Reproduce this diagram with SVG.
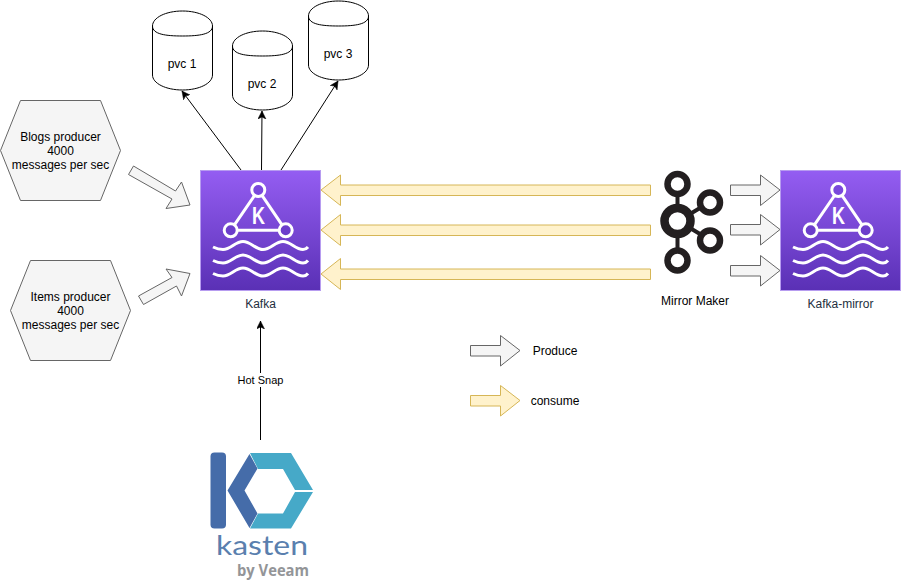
<svg xmlns="http://www.w3.org/2000/svg" width="901" height="584" viewBox="0 0 901 584">
<style>
text{font-family:"Liberation Sans",Arial,sans-serif;font-size:12px;fill:#000;text-anchor:middle}
.hex{fill:#f5f5f5;stroke:#666;stroke-width:1}
.gr{fill:#f5f5f5;stroke:#666;stroke-width:1}
.ye{fill:#fff2cc;stroke:#d6b656;stroke-width:1}
.cyl{fill:#fff;stroke:#000;stroke-width:1}
.conn{fill:none;stroke:#000;stroke-width:1;marker-end:url(#tip)}
.wh{fill:none;stroke:#fff;stroke-width:3}
.wave{fill:none;stroke:#fff;stroke-width:3}
.mm{fill:none;stroke:#231f20}
.aws{fill:#232f3e;font-size:12px}
</style>
<defs>
<linearGradient id="purple" x1="0" y1="0" x2="0" y2="1"><stop offset="0" stop-color="#945df2"/><stop offset="1" stop-color="#5a30b5"/></linearGradient>
<marker id="tip" markerUnits="userSpaceOnUse" markerWidth="10" markerHeight="10" refX="8" refY="4" orient="auto"><path d="M0 0L8 4L0 8L2 4Z" fill="#000" stroke="#000" stroke-width=".5"/></marker>
<g id="kafkaIcon">
<rect x=".5" y=".5" width="120" height="120" fill="url(#purple)" stroke="#b79cf0"/>
<path class="wh" d="M58.300 20L30.700 60.300H85.700Z"/>
<circle cx="58.300" cy="20" r="6.500" fill="#7a48dc" stroke="#fff" stroke-width="3"/>
<circle cx="30.700" cy="60.300" r="6.500" fill="#6c3ecb" stroke="#fff" stroke-width="3"/>
<circle cx="85.700" cy="60.300" r="6.500" fill="#6c3ecb" stroke="#fff" stroke-width="3"/>
<text x="58.500" y="54" style="font-size:23px;font-weight:bold;fill:#fff" textLength="13" lengthAdjust="spacingAndGlyphs">K</text>
<path class="wave" d="M13 77C18 79.500 20 79.500 23 79.500C31 79.500 35 71.500 43 71.500S55 79.500 63 79.500S75 71.500 83 71.500S95 79.500 103 79.500C105 79.500 106 79.500 108 77"/>
<path class="wave" d="M13 90.500C18 93 20 93 23 93C31 93 35 85 43 85S55 93 63 93S75 85 83 85S95 93 103 93C105 93 106 93 108 90.500"/>
<path class="wave" d="M13 103.500C18 106 20 106 23 106C31 106 35 98 43 98S55 106 63 106S75 98 83 98S95 106 103 106C105 106 106 106 108 103.500"/>
</g>
</defs>
<rect width="901" height="584" fill="#fff"/>
<g id="connectors">
<path class="conn" d="M241 170L182 91"/>
<path class="conn" d="M261.500 170L262 111"/>
<path class="conn" d="M281 170L338 81"/>
<path class="conn" d="M260.500 440V321"/>
<rect x="237" y="373" width="47" height="14" fill="#fff"/>
<text x="260.500" y="384" style="font-size:11px">Hot Snap</text>
<polygon class="gr" points="128.500,174.500 133.500,166 175.500,191 181.500,182 190,205 166,208.500 172,199"/>
<polygon class="gr" points="138.500,296 143.500,304.500 176.500,286 181.500,296 190,273.500 166,269 172,277.500"/>
<polygon class="ye" points="650.500,185 340.500,185 340.500,175 321,190 340.500,205.500 340.500,195.500 650.500,195.500"/>
<polygon class="ye" points="650.500,225 340.500,225 340.500,214.500 321,230 340.500,245.500 340.500,235.500 650.500,235.500"/>
<polygon class="ye" points="650.500,269 340.500,269 340.500,258.500 321,274 340.500,289.500 340.500,279.500 650.500,279.500"/>
<polygon class="gr" points="730.500,185 760.500,185 760.500,175 780,190 760.500,205.500 760.500,195.500 730.500,195.500"/>
<polygon class="gr" points="730.500,224.500 760.500,224.500 760.500,214.500 780,229.500 760.500,245 760.500,235 730.500,235"/>
<polygon class="gr" points="730.500,265.500 760.500,265.500 760.500,255.500 780,270.500 760.500,286 760.500,276 730.500,276"/>
</g>
<g id="pvc1"><path class="cyl" d="M152.500 26C152.500 17.700 165.700 11 182.500 11S212.500 17.700 212.500 26V75C212.500 83.300 199.300 90 182.500 90S152.500 83.300 152.500 75Z"/><path class="cyl" style="fill:none" d="M152.500 26C152.500 34.300 165.700 36 182.500 36S212.500 34.300 212.500 26"/><text x="182" y="68">pvc 1</text></g>
<g id="pvc2"><path class="cyl" d="M232.500 46C232.500 37.700 245.700 31 262.500 31S292.500 37.700 292.500 46V95C292.500 103.300 279.300 110 262.500 110S232.500 103.300 232.500 95Z"/><path class="cyl" style="fill:none" d="M232.500 46C232.500 54.300 245.700 56 262.500 56S292.500 54.300 292.500 46"/><text x="262" y="88">pvc 2</text></g>
<g id="pvc3"><path class="cyl" d="M308.500 16C308.500 7.700 321.700 1 338.500 1S368.500 7.700 368.500 16V65C368.500 73.300 355.300 80 338.500 80S308.500 73.300 308.500 65Z"/><path class="cyl" style="fill:none" d="M308.500 16C308.500 24.300 321.700 26 338.500 26S368.500 24.300 368.500 16"/><text x="338" y="58">pvc 3</text></g>
<g id="blogs"><polygon class="hex" points="20.500,100.500 100.500,100.500 120.500,150.500 100.500,200.500 20.500,200.500 .5,150.500"/><text x="60.500" y="141">Blogs producer</text><text x="60.500" y="155">4000</text><text x="60.500" y="169">messages per sec</text></g>
<g id="items"><polygon class="hex" points="30.500,260.500 110.500,260.500 130.500,310.500 110.500,360.500 30.500,360.500 10.500,310.500"/><text x="70.500" y="301">Items producer</text><text x="70.500" y="315">4000</text><text x="70.500" y="329">messages per sec</text></g>
<g id="kafka"><use href="#kafkaIcon" x="200" y="170"/><text class="aws" x="260.500" y="308">Kafka</text></g>
<g id="mirror"><use href="#kafkaIcon" x="780" y="170"/><text class="aws" x="840.500" y="308">Kafka-mirror</text></g>
<g id="mirrormaker">
<path class="mm" stroke-width="4" d="M677.500 194V204M677.500 238V250M690 214L700 208M690 228L700 234"/>
<circle class="mm" stroke-width="6.500" cx="677.500" cy="184" r="10"/>
<circle class="mm" stroke-width="8.500" cx="677.500" cy="221" r="13"/>
<circle class="mm" stroke-width="6.500" cx="710" cy="202.500" r="10"/>
<circle class="mm" stroke-width="6.500" cx="710" cy="240.500" r="10"/>
<circle class="mm" stroke-width="6.500" cx="677.500" cy="260.500" r="10"/>
<text x="695" y="305">Mirror Maker</text>
</g>
<g id="kasten">
<rect x="210.500" y="452.500" width="15.500" height="76" rx="4" fill="#456ca9"/>
<polygon fill="#456ca9" points="249.500,454 257.500,468.500 244.500,490.500 257.500,513.500 249.500,528 227.500,490.500"/>
<polygon fill="#46a9c8" points="250,453 291,453 313,490 295,490 283,469 258,469"/>
<polygon fill="#46a9c8" points="313,492 291,528.500 250,528.500 258,513.500 283,513.500 295,492"/>
<text x="262" y="555" style="font-family:Lato,sans-serif;font-size:26px;fill:#5a7fae" textLength="92" lengthAdjust="spacingAndGlyphs">kasten</text>
<text x="273" y="576" style="font-family:'Open Sans',sans-serif;font-size:15.500px;font-weight:bold;fill:#939598" textLength="72" lengthAdjust="spacingAndGlyphs">by Veeam</text>
</g>
<g id="legend">
<polygon class="gr" points="470.500,345.500 500.500,345.500 500.500,335.500 520,350.500 500.500,366 500.500,356 470.500,356"/>
<text x="555" y="355">Produce</text>
<polygon class="ye" points="470.500,395.500 500.500,395.500 500.500,385.500 520,400.500 500.500,416 500.500,406 470.500,406"/>
<text x="555" y="405">consume</text>
</g>
</svg>
